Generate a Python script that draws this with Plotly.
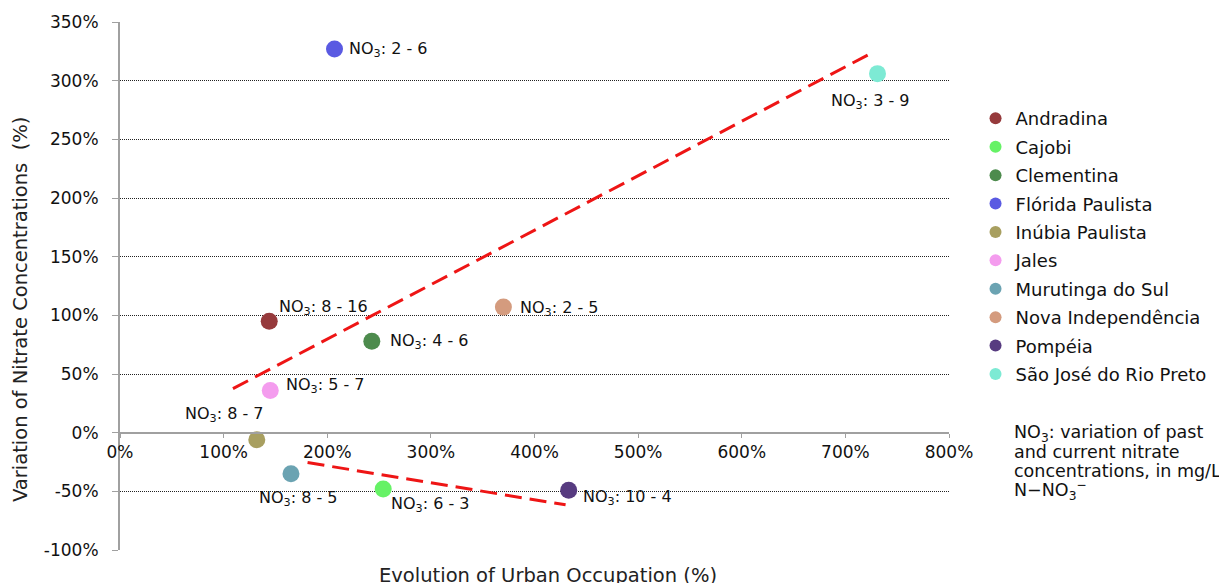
import plotly.graph_objects as go

cities = ["Andradina", "Cajobi", "Clementina", "Flórida Paulista", "Inúbia Paulista",
          "Jales", "Murutinga do Sul", "Nova Independência", "Pompéia", "São José do Rio Preto"]
urban_evolution = [144, 254, 243, 207, 132, 145, 165, 370, 433, 731]
nitrate_variation = [95, -48, 78, 327, -6, 36, -35, 107, -49, 306]
no3_past = [8, 6, 4, 2, 8, 5, 8, 2, 10, 3]
no3_current = [16, 3, 6, 6, 7, 7, 5, 5, 4, 9]
colors = ["#963A3C", "#66F266", "#4D8B4D", "#5A5AE2", "#A89F60",
          "#F49CEE", "#6BA3B2", "#D49B7E", "#573B80", "#7DEAD4"]

trend_up_x = [109, 722]
trend_up_y = [37.5, 322]
trend_down_x = [181, 430]
trend_down_y = [-25.5, -61.5]

x_ticks = [0, 100, 200, 300, 400, 500, 600, 700, 800]
y_ticks = [-100, -50, 0, 50, 100, 150, 200, 250, 300, 350]

note_lines = ["NO<sub>3</sub>: variation of past", "and current nitrate",
              "concentrations, in mg/L", "N−NO<sub>3</sub><sup>−</sup>"]

# label placement (style only): xanchor, yanchor, xshift, yshift
label_pos = [
    ("left", "middle", 8, 14),     # Andradina
    ("left", "middle", 6, -16),    # Cajobi
    ("left", "middle", 16, 0),     # Clementina
    ("left", "middle", 12, -1),    # Flórida
    ("right", "middle", 8, 25),    # Inúbia
    ("left", "middle", 14, 5),     # Jales
    ("center", "middle", 7, -25),  # Murutinga
    ("left", "middle", 15, -1),    # Nova
    ("left", "middle", 12, -7),    # Pompéia
    ("center", "middle", -8, -28), # São José
]

fig = go.Figure()

for tx, ty in ((trend_up_x, trend_up_y), (trend_down_x, trend_down_y)):
    fig.add_trace(go.Scatter(x=tx, y=ty, mode="lines",
                             line=dict(color="#EE1515", width=3, dash="17px,8px"),
                             showlegend=False, hoverinfo="skip"))

for i, c in enumerate(cities):
    fig.add_trace(go.Scatter(x=[urban_evolution[i]], y=[nitrate_variation[i]], mode="markers",
                             name=c, legendgroup=c,
                             marker=dict(color=colors[i], size=17)))

annotations = []
for i in range(len(cities)):
    xa, ya, xs, ys = label_pos[i]
    annotations.append(dict(
        x=urban_evolution[i], y=nitrate_variation[i], xref="x", yref="y",
        text=f"NO<sub>3</sub>: {no3_past[i]} - {no3_current[i]}",
        showarrow=False, xanchor=xa, yanchor=ya, xshift=xs, yshift=ys,
        font=dict(size=16, color="#111111")))

annotations.append(dict(
    x=(548 - 120) / 829, y=0, xref="paper", yref="paper", yshift=-25,
    text="Evolution of Urban Occupation (%)", showarrow=False,
    xanchor="center", yanchor="middle", font=dict(size=19.5, color="#222222")))
annotations.append(dict(
    x=0, y=0.4545, xref="paper", yref="paper", xshift=-100,
    text="Variation of Nitrate Concentrations  (%)", showarrow=False, textangle=-90,
    xanchor="center", yanchor="middle", font=dict(size=19.5, color="#222222")))
for k, line in enumerate(note_lines):
    annotations.append(dict(
        x=1, y=(542 - 425) / 528, xref="paper", yref="paper", xshift=63, yshift=-19 * k,
        text=line, showarrow=False, xanchor="left", yanchor="middle", align="left",
        font=dict(size=17.5, color="#111111")))

fig.update_layout(
    width=1227, height=583,
    margin=dict(l=112, r=286, t=14, b=41, autoexpand=False),
    paper_bgcolor="white", plot_bgcolor="white",
    font=dict(family="DejaVu Sans", color="#111111"),
    showlegend=True,
    legend=dict(x=1.032, xanchor="left", xref="paper", y=0.852, yanchor="top",
                font=dict(size=18, color="#111111"), itemwidth=30,
                tracegroupgap=2, itemsizing="constant", bgcolor="rgba(0,0,0,0)"),
    annotations=annotations,
    xaxis=dict(range=[0, 800], tickvals=x_ticks, ticktext=[f"{v}%" for v in x_ticks],
               anchor="free", position=100 / 450, showgrid=False, zeroline=False,
               showline=True, linecolor="#A0A0A0", linewidth=2, automargin=False,
               ticks="outside", ticklen=4, tickcolor="#A0A0A0",
               tickfont=dict(size=17, color="#111111")),
    yaxis=dict(range=[-100, 350], tickvals=y_ticks, ticktext=[f"{v}%" for v in y_ticks],
               showgrid=True, gridcolor="#222222", griddash="1px,1px", gridwidth=1,
               zeroline=False, showline=True, linecolor="#A0A0A0", linewidth=2,
               automargin=False,
               ticks="outside", ticklen=6, tickcolor="#A0A0A0", ticklabelstandoff=10,
               tickfont=dict(size=17, color="#111111")),
)

fig.write_html("out.html")
